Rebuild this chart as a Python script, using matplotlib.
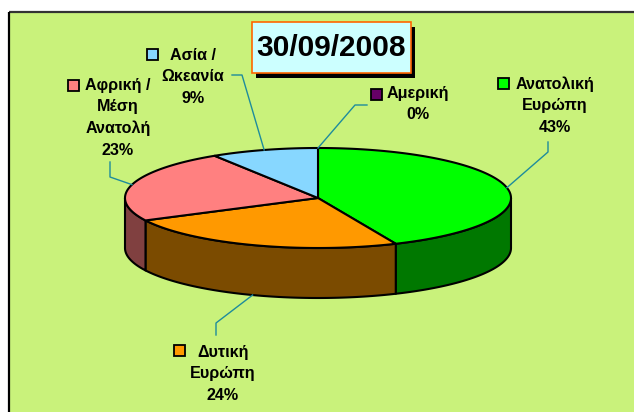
import numpy as np
import matplotlib
matplotlib.use('Agg')
import matplotlib.pyplot as plt
from matplotlib.patches import Rectangle, Polygon

plt.rcParams['font.family'] = ['Liberation Sans', 'DejaVu Sans']

# data
regions = ['Ανατολική\nΕυρώπη', 'Δυτική\nΕυρώπη', 'Αφρική /\nΜέση\nΑνατολή',
           'Ασία /\nΩκεανία', 'Αμερική']
shares = [43.4, 24.2, 23.4, 9.0, 0.0]
top_colors = ['#00FF00', '#FF9900', '#FF8080', '#87D7FF', '#660066']
side_colors = ['#007800', '#7B4B00', '#804040', '#447080', '#330033']
title = '30/09/2008'

# layout (pixels)
W, H = 634, 412
cx, cy, rx, ry, depth = 318, 198, 193, 50, 50
# label text centre x, first line y, key square x/y
label_pos = [(555, 84, 498, 78), (223, 352, 174, 345), (118, 85, 68, 80),
             (193, 55, 147, 49), (418, 93, 371, 89)]
# leader start and elbow
leaders = [((548, 142), (548, 152)), ((216, 335), (216, 323)),
           ((110, 162), (110, 177)), ((232, 75), (242, 75)),
           ((367, 105), (355, 105))]
line_h = 21.8
lead_col = '#1E8C9C'

fig = plt.figure(figsize=(W / 100, H / 100), dpi=100)
fig.patch.set_facecolor('white')
ax = fig.add_axes([0, 0, 1, 1])
ax.set_xlim(0, W)
ax.set_ylim(H, 0)
ax.axis('off')

# chart area: only top and left edges visible
ax.add_patch(Rectangle((9, 12), W, H, facecolor='#C9F27B', edgecolor='none'))
ax.plot([9, W], [12, 12], color='#333333', lw=1.6, solid_capstyle='butt')
ax.plot([9, 9], [12, H], color='black', lw=1.6, solid_capstyle='butt')


def pt(t, dz=0):
    t = np.radians(t)
    return cx + rx * np.cos(t), cy - ry * np.sin(t) + dz


# slice angles, clockwise from top
angs = []
a = 90.0
for s in shares:
    span = s / sum(shares) * 360
    angs.append((a, a - span))
    a -= span

# sides (front half only)
for (t0, t1), col in zip(angs, side_colors):
    hi = min(t0, 0)
    lo = max(t1, -180)
    if hi <= lo:
        continue
    ts = np.linspace(hi, lo, 80)
    x, y = pt(ts)
    xb, yb = pt(ts[::-1], depth)
    poly = np.column_stack([np.r_[x, xb], np.r_[y, yb]])
    ax.add_patch(Polygon(poly, closed=True, facecolor=col, edgecolor='black', lw=1.5,
                         joinstyle='round'))

# tops
for (t0, t1), col in zip(angs, top_colors):
    if t0 - t1 <= 0:
        continue
    ts = np.linspace(t0, t1, 120)
    x, y = pt(ts)
    poly = np.column_stack([np.r_[cx, x], np.r_[cy, y]])
    ax.add_patch(Polygon(poly, closed=True, facecolor=col, edgecolor='black', lw=1.5,
                         joinstyle='round'))

# labels + leaders
for name, s, col, (lx, ly, kx, ky), (p0, p1), (t0, t1) in zip(
        regions, shares, top_colors, label_pos, leaders, angs):
    lines = name.split('\n') + ['%.0f%%' % s]
    for i, ln in enumerate(lines):
        ax.text(lx, ly + i * line_h, ln, ha='center', va='center',
                fontsize=11.6, fontweight='bold', color='black')
    ax.add_patch(Rectangle((kx, ky), 11, 11, facecolor=col, edgecolor='black', lw=1.3))
    mid = (t0 + t1) / 2
    ex, ey = pt(mid, depth if np.sin(np.radians(mid)) < 0 else 0)
    ax.plot([p0[0], p1[0], ex], [p0[1], p1[1], ey], color=lead_col, lw=1)

# title box with shadow
ax.add_patch(Rectangle((256, 27), 159, 51, facecolor='black', edgecolor='none'))
ax.add_patch(Rectangle((252, 22), 159, 51, facecolor='#CCFFFF', edgecolor='#FF6600', lw=1.2))
ax.text(331.5, 48, title, ha='center', va='center', fontsize=21.5, fontweight='bold')

fig.savefig('out.png', dpi=100, facecolor=fig.get_facecolor())
